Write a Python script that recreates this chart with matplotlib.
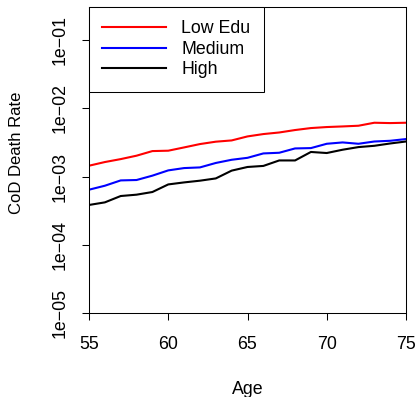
import matplotlib
matplotlib.use("Agg")
import matplotlib.pyplot as plt
from matplotlib.ticker import FixedLocator, NullLocator

plt.rcParams['font.family'] = ['Liberation Sans', 'DejaVu Sans']

ages = list(range(55, 76))
low_edu = [1.44e-3, 1.63e-3, 1.80e-3, 2.02e-3, 2.36e-3, 2.39e-3, 2.67e-3, 2.99e-3,
           3.24e-3, 3.38e-3, 3.87e-3, 4.19e-3, 4.42e-3, 4.80e-3, 5.13e-3, 5.31e-3,
           5.42e-3, 5.55e-3, 6.14e-3, 6.07e-3, 6.14e-3]
medium = [6.41e-4, 7.33e-4, 8.77e-4, 8.89e-4, 1.03e-3, 1.23e-3, 1.33e-3, 1.36e-3,
          1.58e-3, 1.76e-3, 1.88e-3, 2.18e-3, 2.23e-3, 2.58e-3, 2.61e-3, 3.02e-3,
          3.16e-3, 3.02e-3, 3.26e-3, 3.34e-3, 3.54e-3]
high = [3.83e-4, 4.18e-4, 5.18e-4, 5.42e-4, 5.93e-4, 7.66e-4, 8.20e-4, 8.69e-4,
        9.38e-4, 1.22e-3, 1.38e-3, 1.43e-3, 1.72e-3, 1.72e-3, 2.29e-3, 2.21e-3,
        2.47e-3, 2.70e-3, 2.82e-3, 3.05e-3, 3.26e-3]
series_labels = ["Low Edu", "Medium", "High"]
series_colors = ["#FF0000", "#0000FF", "#000000"]
x_ticks = [55, 60, 65, 70, 75]
y_ticks = [1e-5, 1e-4, 1e-3, 1e-2, 1e-1]
y_ticklabels = ["1e\u221205", "1e\u221204", "1e\u221203", "1e\u221202", "1e\u221201"]

FS = 12.8
W, H = 417, 397
fig = plt.figure(figsize=(W / 100, H / 100), dpi=100)
L, R, T, B = 89, 406, 7, 313
ax = fig.add_axes([L / W, 1 - B / H, (R - L) / W, (B - T) / H])

for vals, lab, col in zip([low_edu, medium, high], series_labels, series_colors):
    ax.plot(ages, vals, color=col, lw=1.5, label=lab, solid_joinstyle='round')

ax.set_yscale('log')
ax.set_xlim(55, 75)
ax.set_ylim(1e-5, 0.305)
ax.xaxis.set_major_locator(FixedLocator(x_ticks))
ax.yaxis.set_major_locator(FixedLocator(y_ticks))
ax.yaxis.set_minor_locator(NullLocator())
ax.set_yticklabels(y_ticklabels, rotation=90, va='center')
ax.tick_params(axis='both', direction='out', length=5, width=0.75, labelsize=FS, color='black')
ax.tick_params(axis='x', pad=11.5)
ax.tick_params(axis='y', pad=9.5)
for s in ax.spines.values():
    s.set_linewidth(0.75)
    s.set_color('black')

fig.text(247.5 / W, 1 - 394 / H, "Age", ha='center', va='baseline', fontsize=FS)
fig.text(21.5 / W, 1 - 152.5 / H, "CoD Death Rate", ha='center', va='baseline',
         rotation=90, rotation_mode='anchor', fontsize=12)

leg = ax.legend(loc='upper left', bbox_to_anchor=(0, 1), borderaxespad=0,
                fancybox=False, edgecolor='black', framealpha=1, fontsize=FS,
                handlelength=3.6, handletextpad=0.85, labelspacing=0.2, borderpad=0.75)
leg.get_frame().set_linewidth(0.75)

fig.savefig("out.png", dpi=100)
